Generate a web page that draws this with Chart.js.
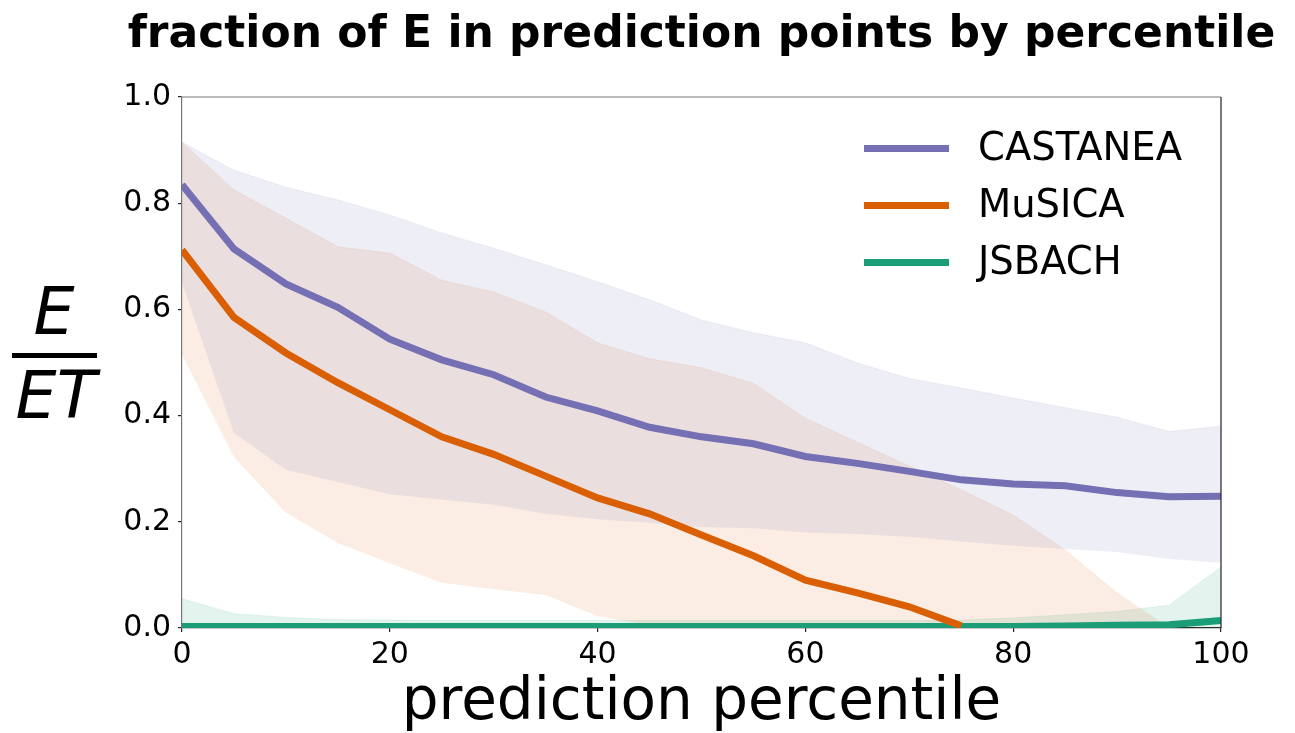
<!DOCTYPE html>
<html>
<head>
<meta charset="utf-8">
<title>fraction of E in prediction points by percentile</title>
<script src="https://cdn.jsdelivr.net/npm/chart.js@4.4.1/dist/chart.umd.min.js"></script>
<style>
  html, body { margin: 0; padding: 0; background: #fff; }
  #wrap { width: 1295px; height: 733px; }
</style>
</head>
<body>
<div id="wrap"><canvas id="chart" width="1295" height="733"></canvas></div>
<script>
const percentiles = [0, 5, 10, 15, 20, 25, 30, 35, 40, 45, 50, 55, 60, 65, 70, 75, 80, 85, 90, 95, 100];

const seriesNames = ['CASTANEA', 'MuSICA', 'JSBACH'];

const castaneaMean = [0.835, 0.714, 0.648, 0.604, 0.544, 0.505, 0.477, 0.435, 0.409, 0.378, 0.360, 0.347, 0.323, 0.310, 0.295, 0.279, 0.271, 0.268, 0.255, 0.247, 0.248];
const castaneaLow  = [0.650, 0.367, 0.298, 0.275, 0.252, 0.242, 0.232, 0.215, 0.205, 0.198, 0.190, 0.188, 0.180, 0.177, 0.172, 0.163, 0.155, 0.149, 0.143, 0.130, 0.123];
const castaneaHigh = [0.915, 0.862, 0.830, 0.806, 0.778, 0.744, 0.715, 0.684, 0.652, 0.618, 0.580, 0.556, 0.537, 0.499, 0.470, 0.452, 0.433, 0.415, 0.397, 0.370, 0.380];

const musicaMean = [0.712, 0.585, 0.518, 0.462, 0.411, 0.360, 0.327, 0.286, 0.245, 0.215, 0.175, 0.136, 0.090, 0.066, 0.040, 0.004, null, null, null, null, null];
const musicaLow  = [0.515, 0.322, 0.217, 0.160, 0.122, 0.085, 0.073, 0.062, 0.022, 0.005, 0, 0, 0, 0, 0, 0, 0, 0, 0, 0, 0];
const musicaHigh = [0.915, 0.825, 0.772, 0.718, 0.706, 0.655, 0.633, 0.595, 0.537, 0.507, 0.490, 0.461, 0.395, 0.350, 0.305, 0.260, 0.213, 0.147, 0.066, 0, 0];

const jsbachMean = [0.003, 0.003, 0.003, 0.003, 0.003, 0.003, 0.003, 0.003, 0.003, 0.003, 0.003, 0.003, 0.003, 0.003, 0.003, 0.003, 0.003, 0.004, 0.005, 0.006, 0.014];
const jsbachLow  = [0, 0, 0, 0, 0, 0, 0, 0, 0, 0, 0, 0, 0, 0, 0, 0, 0, 0, 0, 0, 0];
const jsbachHigh = [0.055, 0.027, 0.020, 0.016, 0.015, 0.014, 0.014, 0.014, 0.014, 0.014, 0.014, 0.014, 0.014, 0.014, 0.014, 0.015, 0.019, 0.025, 0.031, 0.043, 0.115];

const xTicks = [0, 20, 40, 60, 80, 100];
const yTicks = [0, 0.2, 0.4, 0.6, 0.8, 1.0];

const colors = ['#7570b3', '#d95f02', '#1b9e77'];
const bandColors = ['rgba(117,112,179,0.12)', 'rgba(217,95,2,0.11)', 'rgba(27,158,119,0.12)'];

const FONT = "'DejaVu Sans', sans-serif";

function pts(values) {
    return percentiles.map((p, i) => ({ x: p, y: values[i] }));
}

const groups = [
    [castaneaMean, castaneaLow, castaneaHigh],
    [musicaMean, musicaLow, musicaHigh],
    [jsbachMean, jsbachLow, jsbachHigh]
];

// mean lines go first so they sit on top; each band is a low/high pair filled together
const datasets = [];
groups.forEach((g, i) => {
    datasets.push({
        label: seriesNames[i],
        data: pts(g[0]),
        borderColor: colors[i],
        borderWidth: 7,
        pointRadius: 0,
        fill: false,
        spanGaps: false,
        order: 0
    });
});
groups.forEach((g, i) => {
    const lowIndex = datasets.length;
    datasets.push({
        label: seriesNames[i] + ' low',
        data: pts(g[1]),
        borderWidth: 0,
        borderColor: 'transparent',
        pointRadius: 0,
        fill: false,
        order: 1
    });
    datasets.push({
        label: seriesNames[i] + ' high',
        data: pts(g[2]),
        borderWidth: 0.8,
        borderColor: bandColors[i],
        backgroundColor: bandColors[i],
        pointRadius: 0,
        fill: lowIndex,
        order: 1
    });
});

// title, fraction label, axis label, box and legend
const decorations = {
    id: 'decorations',
    afterDraw(chart) {
        const ctx = chart.ctx;
        const a = chart.chartArea;
        ctx.save();

        ctx.fillStyle = '#000';
        ctx.textAlign = 'center';
        ctx.textBaseline = 'alphabetic';
        ctx.font = 'bold 44px ' + FONT;
        ctx.fillText('fraction of E in prediction points by percentile', (a.left + a.right) / 2, 47);

        ctx.font = '58px ' + FONT;
        ctx.fillText('prediction percentile', (a.left + a.right) / 2, 719);

        // E / ET
        ctx.font = 'italic 65px ' + FONT;
        ctx.fillText('E', 54, 334);
        ctx.fillText('ET', 56, 418);
        ctx.fillRect(12, 353, 85, 5);

        // top and right spines
        ctx.lineWidth = 1.2;
        ctx.strokeStyle = '#777';
        ctx.beginPath();
        ctx.moveTo(a.left, a.top);
        ctx.lineTo(a.right, a.top);
        ctx.stroke();
        ctx.strokeStyle = '#222';
        ctx.beginPath();
        ctx.moveTo(a.right, a.top);
        ctx.lineTo(a.right, a.bottom);
        ctx.stroke();

        // legend
        ctx.textAlign = 'left';
        ctx.textBaseline = 'middle';
        ctx.font = '38.5px ' + FONT;
        seriesNames.forEach((name, i) => {
            const y = 148.5 + i * 57;
            ctx.strokeStyle = colors[i];
            ctx.lineWidth = 7;
            ctx.beginPath();
            ctx.moveTo(864, y);
            ctx.lineTo(949, y);
            ctx.stroke();
            ctx.fillStyle = '#000';
            ctx.fillText(name, 978, y + 1);
        });
        ctx.restore();
    }
};

const ctx = document.getElementById('chart').getContext('2d');
new Chart(ctx, {
    type: 'line',
    data: { datasets },
    options: {
        responsive: false,
        animation: false,
        devicePixelRatio: 1,
        layout: { padding: { left: 0, top: 97, right: 74, bottom: 0 } },
        plugins: {
            legend: { display: false },
            tooltip: { enabled: false },
            filler: { drawTime: 'beforeDatasetsDraw' }
        },
        scales: {
            x: {
                type: 'linear',
                min: 0,
                max: 100,
                afterFit: s => { s.height = 105; },
                afterBuildTicks: s => { s.ticks = xTicks.map(v => ({ value: v })); },
                grid: { drawOnChartArea: false, tickLength: 4, color: '#222', lineWidth: 1.2 },
                border: { display: true, color: '#222', width: 1.2 },
                ticks: { color: '#000', font: { family: FONT, size: 30 }, padding: 5, maxRotation: 0 }
            },
            y: {
                min: 0,
                max: 1,
                afterFit: s => { s.width = 182; },
                afterBuildTicks: s => { s.ticks = yTicks.map(v => ({ value: v })); },
                grid: { drawOnChartArea: false, tickLength: 4, color: '#222', lineWidth: 1.2 },
                border: { display: true, color: '#777', width: 1.2 },
                ticks: {
                    color: '#000',
                    font: { family: FONT, size: 30 },
                    padding: 7,
                    callback: v => v.toFixed(1)
                }
            }
        }
    },
    plugins: [decorations]
});
</script>
</body>
</html>
